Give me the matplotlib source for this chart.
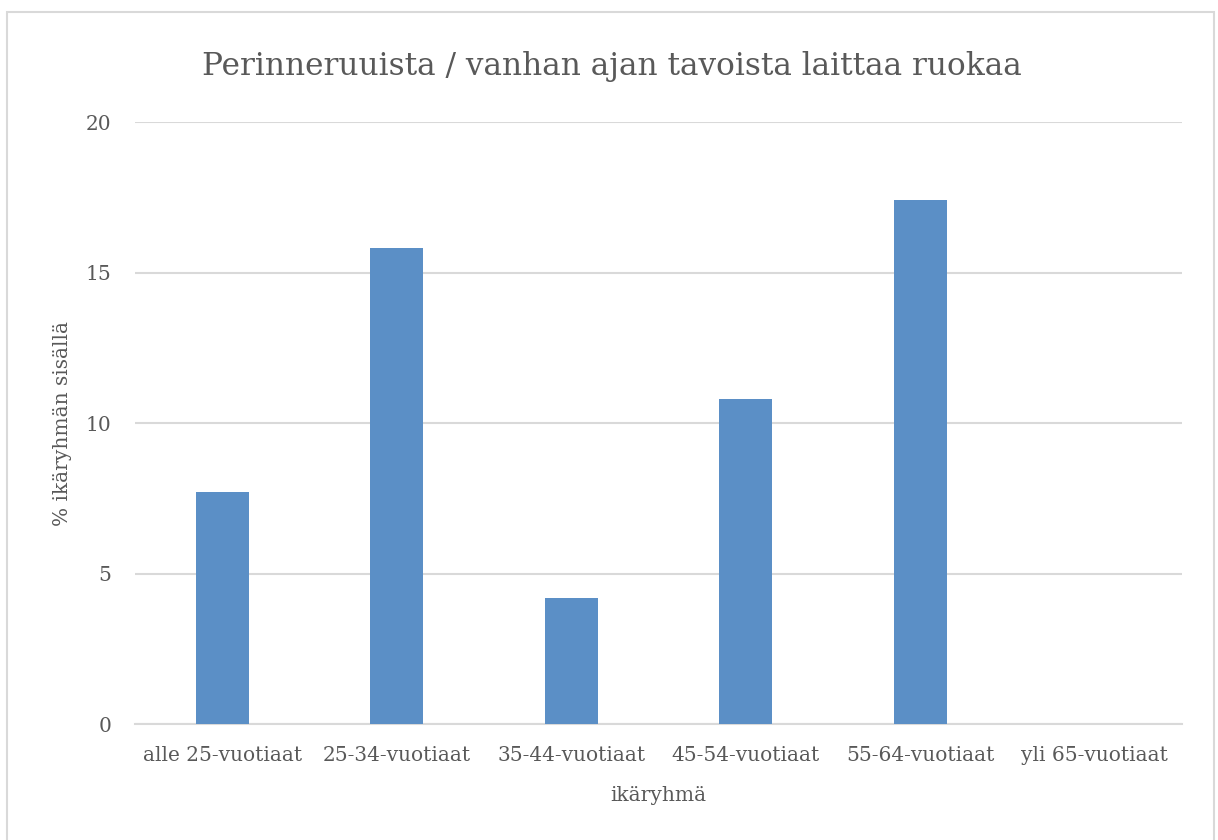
import matplotlib
matplotlib.use("Agg")
import matplotlib.pyplot as plt
from matplotlib.patches import Rectangle

# data
categories = ["alle 25-vuotiaat", "25-34-vuotiaat", "35-44-vuotiaat",
              "45-54-vuotiaat", "55-64-vuotiaat", "yli 65-vuotiaat"]
values = [7.7, 15.8, 4.2, 10.8, 17.4, 0.0]
yticks = [0, 5, 10, 15, 20]

title = "Perinneruuista / vanhan ajan tavoista laittaa ruokaa"
xlabel = "ikäryhmä"
ylabel = "% ikäryhmän sisällä"

text_col = "#595959"
grid_col = "#D9D9D9"
bar_col = "#5B8FC6"

plt.rcParams["font.family"] = ["DejaVu Serif"]

fig = plt.figure(figsize=(12.18, 8.4), dpi=100)
ax = fig.add_axes([135 / 1218, 1 - 724 / 840, 1047 / 1218, 602 / 840])

# light border around the whole chart
fig.patches.append(Rectangle((7 / 1218, -0.01), 1207 / 1218, 1 - 12 / 840 + 0.01,
                             transform=fig.transFigure, fill=False,
                             edgecolor=grid_col, linewidth=1.5))

x = range(len(categories))
ax.bar(x, values, width=0.305, color=bar_col, zorder=3)

ax.set_xlim(-0.5, len(categories) - 0.5)
ax.set_ylim(0, 20)
ax.set_yticks(yticks)
ax.set_xticks(list(x))
ax.set_xticklabels(categories)
ax.grid(axis="y", color=grid_col, linewidth=1.5, zorder=0)

for s in ["top", "right", "left"]:
    ax.spines[s].set_visible(False)
ax.spines["bottom"].set_color(grid_col)
ax.spines["bottom"].set_linewidth(1.5)
ax.tick_params(axis="both", length=0, labelsize=14.5, colors=text_col)
ax.tick_params(axis="x", pad=16)
ax.tick_params(axis="y", pad=17)

ax.set_xlabel(xlabel, fontsize=14.5, color=text_col, labelpad=15)
ax.set_ylabel(ylabel, fontsize=14.5, color=text_col, labelpad=10)
fig.text(612 / 1218, 1 - 66 / 840, title, ha="center", va="center",
         fontsize=22.5, color=text_col)

fig.savefig("out.png", dpi=100)
